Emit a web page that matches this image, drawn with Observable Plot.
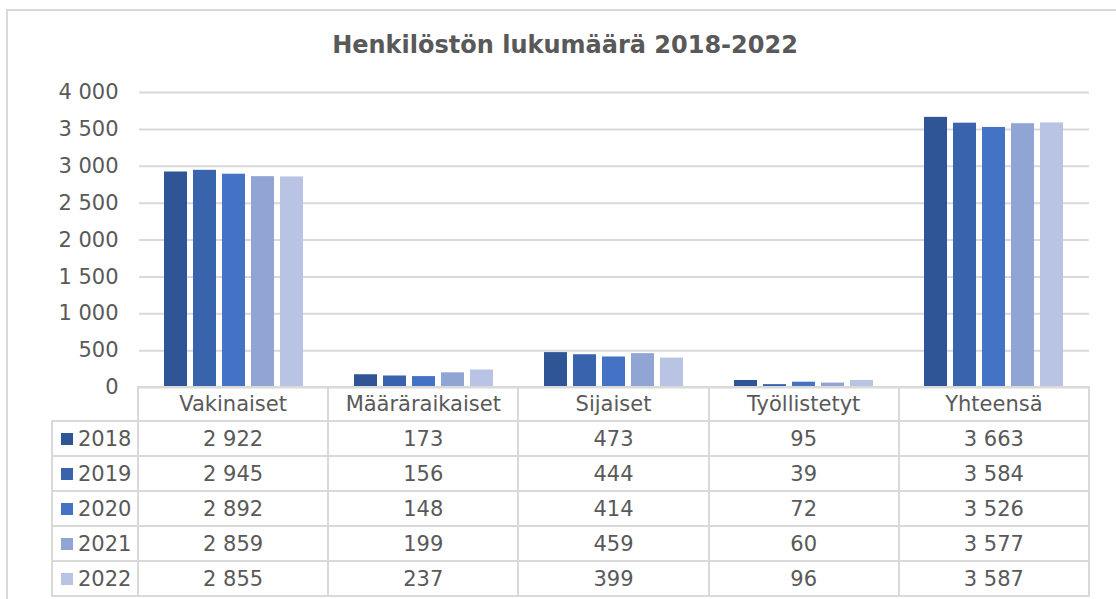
<!DOCTYPE html>
<html>
<head>
<meta charset="utf-8">
<script src="https://cdn.jsdelivr.net/npm/d3@7"></script>
<script src="https://cdn.jsdelivr.net/npm/@observablehq/plot@0.6"></script>
<style>
  html, body { margin: 0; padding: 0; background: #fff; width: 1116px; height: 599px; overflow: hidden; }
  #root { position: relative; width: 1116px; height: 599px; font-family: "DejaVu Sans", Verdana, sans-serif; color: #595959; }
  #frame { position: absolute; left: 6px; top: 9px; width: 1200px; height: 700px; border-left: 2px solid #d9d9d9; border-top: 2px solid #d9d9d9; box-sizing: border-box; }
  #title { position: absolute; left: 0; top: 33px; width: 1130px; text-align: center; font-size: 24px; font-weight: bold; line-height: 1; color: #595959; }
  #chart { position: absolute; left: 0; top: 70px; }
  .cell { position: absolute; box-sizing: border-box; border: 2px solid #d9d9d9; display: flex; align-items: center; justify-content: center; font-size: 21px; color: #595959; white-space: pre; }
  .key { justify-content: flex-start; }
  .sw { width: 12px; height: 12px; margin-left: 8px; margin-right: 5px; flex: none; }
</style>
</head>
<body>
<div id="root">
  <div id="frame"></div>
  <div id="title"></div>
  <div id="chart"></div>
</div>
<script>
const titleText = "Henkilöstön lukumäärä 2018-2022";
const categories = ["Vakinaiset", "Määräraikaiset", "Sijaiset", "Työllistetyt", "Yhteensä"];
const years = ["2018", "2019", "2020", "2021", "2022"];
const values2018 = [2922, 173, 473, 95, 3663];
const values2019 = [2945, 156, 444, 39, 3584];
const values2020 = [2892, 148, 414, 72, 3526];
const values2021 = [2859, 199, 459, 60, 3577];
const values2022 = [2855, 237, 399, 96, 3587];
const yTicks = [0, 500, 1000, 1500, 2000, 2500, 3000, 3500, 4000];
const colors = ["#2f5597", "#3a63ad", "#4472c4", "#91a5d5", "#b9c4e4"];

const series = [values2018, values2019, values2020, values2021, values2022];
const data = [];
years.forEach((yr, i) => categories.forEach((c, j) => data.push({cat: c, year: yr, value: series[i][j]})));

const fmt = d3.formatLocale({decimal: ",", thousands: " ", grouping: [3], currency: ["", ""]}).format(",d");

document.getElementById("title").textContent = titleText;

const W = 1116, H = 340, mTop = 22, mBottom = 23, mLeft = 138, mRight = 27;
const plot = Plot.plot({
  width: W,
  height: H,
  marginTop: mTop,
  marginBottom: mBottom,
  marginLeft: mLeft,
  marginRight: mRight,
  style: {background: "transparent", overflow: "visible", fontFamily: "DejaVu Sans, Verdana, sans-serif", fontSize: "21px", color: "#595959"},
  fx: {domain: categories, padding: 0, axis: null, label: null},
  x: {domain: years, paddingInner: 0.2, paddingOuter: 0.857, axis: null},
  y: {domain: [0, 4000], ticks: yTicks, tickSize: 0, tickPadding: 21, tickFormat: fmt, label: null},
  color: {domain: years, range: colors},
  marks: [
    Plot.ruleY(yTicks, {stroke: "#d9d9d9", strokeWidth: 2, strokeOpacity: 1}),
    Plot.barY(data, {fx: "cat", x: "year", y: "value", fill: "year"})
  ]
});
document.getElementById("chart").appendChild(plot);

// Data table below the plot, aligned to the fx scale
const fxScale = plot.scale("fx");
const r0 = fxScale.range[0], r1 = fxScale.range[1];
const n = fxScale.domain.length;
const colEdges = d3.range(n + 1).map(i => r0 + i * (r1 - r0) / n);
const keyLeft = 52;
const yTop = 70 + H - mBottom;
const headerH = 34, rowH = 35;
const root = document.getElementById("root");

function cell(x0, x1, y0, y1, html, cls) {
  const d = document.createElement("div");
  d.className = "cell" + (cls ? " " + cls : "");
  d.style.left = (x0 - 1) + "px";
  d.style.top = (y0 - 1) + "px";
  d.style.width = (x1 - x0 + 2) + "px";
  d.style.height = (y1 - y0 + 2) + "px";
  if (typeof html === "string") d.textContent = html; else d.appendChild(html);
  root.appendChild(d);
}

fxScale.domain.forEach((c, j) => cell(colEdges[j], colEdges[j + 1], yTop, yTop + headerH, c));
years.forEach((yr, i) => {
  const y0 = yTop + headerH + i * rowH, y1 = y0 + rowH;
  const frag = document.createDocumentFragment();
  const sw = document.createElement("span");
  sw.className = "sw";
  sw.style.background = colors[i];
  const t = document.createElement("span");
  t.textContent = yr;
  frag.appendChild(sw); frag.appendChild(t);
  cell(keyLeft, colEdges[0], y0, y1, frag, "key");
  fxScale.domain.forEach((c, j) => {
    const v = series[i][categories.indexOf(c)];
    cell(colEdges[j], colEdges[j + 1], y0, y1, fmt(v));
  });
});
</script>
</body>
</html>
